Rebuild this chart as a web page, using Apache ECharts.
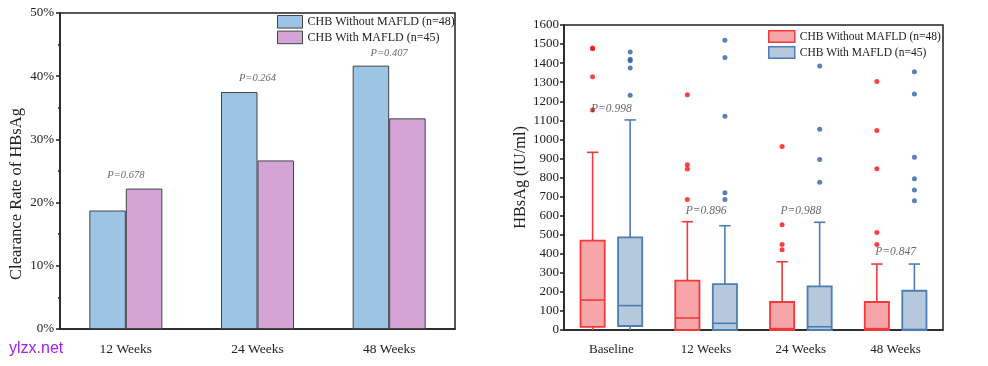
<!DOCTYPE html>
<html>
<head>
<meta charset="utf-8">
<script src="https://cdn.jsdelivr.net/npm/echarts@6/dist/echarts.min.js"></script>
<style>html,body{margin:0;padding:0;background:#fff}#c{width:988px;height:366px}</style>
</head>
<body>
<div id="c"></div>
<script>
// ---------- Left chart data ----------
const rateCategories = ['12 Weeks', '24 Weeks', '48 Weeks'];
const rateWithout = [0.1875, 0.375, 0.4167];
const rateWith = [0.2222, 0.2667, 0.3333];
const rateP = ['P=0.678', 'P=0.264', 'P=0.407'];
const rateYTicks = [0, 0.1, 0.2, 0.3, 0.4, 0.5];
const ratePLabelY = [0.243, 0.396, 0.437];

// ---------- Right chart data ----------
const boxCategories = ['Baseline', '12 Weeks', '24 Weeks', '48 Weeks'];
// [min, Q1, median, Q3, max]
const boxWithout = [
  [0, 16, 157, 469, 932],
  [0, 0, 63, 259, 568],
  [0, 0, 7, 147, 358],
  [0, 0, 7, 147, 346]
];
const boxWith = [
  [0, 21, 128, 486, 1102],
  [0, 0, 35, 241, 547],
  [0, 0, 17, 229, 565],
  [0, 0, 3, 206, 346]
];
const outWithout = [
  [1480, 1476, 1329, 1154],
  [1234, 867, 845, 684],
  [963, 552, 449, 421],
  [1304, 1047, 846, 512, 448]
];
const outWith = [
  [1458, 1420, 1413, 1374, 1231],
  [1520, 1430, 1121, 720, 684],
  [1385, 1053, 895, 775],
  [1355, 1238, 906, 794, 734, 678]
];
const boxP = ['P=0.998', 'P=0.896', 'P=0.988', 'P=0.847'];
const boxPLabelY = [1159, 626, 626, 410];
const seriesNames = ['CHB Without MAFLD (n=48)', 'CHB With MAFLD (n=45)'];

const FONT = '"Liberation Serif", "Times New Roman", serif';
const chart = echarts.init(document.getElementById('c'));

function boxRender(offFrac, fill, stroke) {
  return function (params, api) {
    const i = api.value(0);
    const band = api.size([1, 0])[0];
    const off = band * offFrac;
    const bw = band * 0.255, cw = band * 0.12;
    const pMin = api.coord([i, api.value(1)]);
    const pQ1 = api.coord([i, api.value(2)]);
    const pMed = api.coord([i, api.value(3)]);
    const pQ3 = api.coord([i, api.value(4)]);
    const pMax = api.coord([i, api.value(5)]);
    const cx = pMin[0] + off;
    const ls = { stroke: stroke, lineWidth: 1.6, fill: null };
    const ch = [
      { type: 'line', shape: { x1: cx, y1: pQ3[1], x2: cx, y2: pMax[1] }, style: ls },
      { type: 'line', shape: { x1: cx - cw / 2, y1: pMax[1], x2: cx + cw / 2, y2: pMax[1] }, style: ls },
      { type: 'line', shape: { x1: cx, y1: pQ1[1], x2: cx, y2: pMin[1] }, style: ls },
      { type: 'rect', shape: { x: cx - bw / 2, y: pQ3[1], width: bw, height: pQ1[1] - pQ3[1] },
        style: { fill: fill, stroke: stroke, lineWidth: 1.8 } },
      { type: 'line', shape: { x1: cx - bw / 2, y1: pMed[1], x2: cx + bw / 2, y2: pMed[1] }, style: ls }
    ];
    return { type: 'group', children: ch };
  };
}

function boxData(arr) { return arr.map((d, i) => [i].concat(d)); }
function outData(arr) {
  const r = [];
  arr.forEach((vals, i) => vals.forEach(v => r.push([i, v])));
  return r;
}

const legendText = { L0: seriesNames[0], L1: seriesNames[1], R0: seriesNames[0], R1: seriesNames[1] };

const option = {
  animation: false,
  backgroundColor: '#fff',
  textStyle: { fontFamily: FONT },
  grid: [
    { left: 60, top: 13, width: 395, height: 316, show: true, borderColor: '#222', borderWidth: 1.5, backgroundColor: 'transparent' },
    { left: 564, top: 25, width: 379, height: 305, show: true, borderColor: '#222', borderWidth: 1.5, backgroundColor: 'transparent' }
  ],
  legend: [
    {
      left: 277, top: 15, padding: 0, orient: 'vertical', itemWidth: 25, itemHeight: 12.6, itemGap: 2,
      icon: 'rect', formatter: n => legendText[n],
      textStyle: { fontFamily: FONT, fontSize: 12, color: '#222', lineHeight: 13 },
      data: [
        { name: 'L0', itemStyle: { color: '#9DC3E5', borderColor: '#444', borderWidth: 1 } },
        { name: 'L1', itemStyle: { color: '#D3A5D7', borderColor: '#444', borderWidth: 1 } }
      ]
    },
    {
      left: 768, top: 30, padding: 0, orient: 'vertical', itemWidth: 26, itemHeight: 11.5, itemGap: 3,
      icon: 'rect', formatter: n => legendText[n],
      textStyle: { fontFamily: FONT, fontSize: 11.5, color: '#222', lineHeight: 11.5 },
      data: [
        { name: 'R0', itemStyle: { color: '#F6A5A8', borderColor: '#F23A3A', borderWidth: 1.5 } },
        { name: 'R1', itemStyle: { color: '#B5C8DC', borderColor: '#4D7DB3', borderWidth: 1.5 } }
      ]
    }
  ],
  xAxis: [
    {
      gridIndex: 0, type: 'category', data: rateCategories,
      axisLine: { lineStyle: { color: '#222', width: 1.5 } },
      axisTick: { alignWithLabel: true, length: 5, lineStyle: { color: '#222', width: 1.5 } },
      axisLabel: { fontFamily: FONT, fontSize: 13.5, color: '#222', margin: 13 }
    },
    {
      gridIndex: 1, type: 'category', data: boxCategories,
      axisLine: { lineStyle: { color: '#222', width: 1.5 } },
      axisTick: { alignWithLabel: true, length: 5, lineStyle: { color: '#222', width: 1.5 } },
      axisLabel: { fontFamily: FONT, fontSize: 13, color: '#222', margin: 13 }
    }
  ],
  yAxis: [
    {
      gridIndex: 0, type: 'value', min: rateYTicks[0], max: rateYTicks[rateYTicks.length - 1], interval: 0.1,
      name: 'Clearance Rate of HBsAg', nameLocation: 'middle', nameGap: 35,
      nameTextStyle: { fontFamily: FONT, fontSize: 16.5, color: '#222', padding: [0, 46, 0, 0] },
      axisLine: { show: true, lineStyle: { color: '#222', width: 1.5 } },
      axisTick: { show: true, length: 4, lineStyle: { color: '#222', width: 1.5 } },
      minorTick: { show: true, splitNumber: 2, length: 2, lineStyle: { color: '#222', width: 1.5 } },
      splitLine: { show: false },
      axisLabel: { fontFamily: FONT, fontSize: 13, color: '#222', margin: 6,
        formatter: v => Math.round(v * 100) + '%' }
    },
    {
      gridIndex: 1, type: 'value', min: 0, max: 1600, interval: 100,
      name: 'HBsAg (IU/ml)', nameLocation: 'middle', nameGap: 33,
      nameTextStyle: { fontFamily: FONT, fontSize: 16.3, color: '#222' },
      axisLine: { show: true, lineStyle: { color: '#222', width: 1.5 } },
      axisTick: { show: true, length: 4, lineStyle: { color: '#222', width: 1.5 } },
      splitLine: { show: false },
      axisLabel: { fontFamily: FONT, fontSize: 13, color: '#222', margin: 5, formatter: v => String(v) }
    }
  ],
  series: [
    {
      name: 'L0', type: 'bar', xAxisIndex: 0, yAxisIndex: 0, data: rateWithout,
      barWidth: 36.5, barGap: '0%',
      itemStyle: { color: '#9DC3E5', borderColor: '#444', borderWidth: 1 }
    },
    {
      name: 'L1', type: 'bar', xAxisIndex: 0, yAxisIndex: 0, data: rateWith,
      barWidth: 36.5, barGap: '0%',
      itemStyle: { color: '#D3A5D7', borderColor: '#444', borderWidth: 1 }
    },
    {
      type: 'scatter', xAxisIndex: 0, yAxisIndex: 0, symbolSize: 1, silent: true,
      itemStyle: { color: 'transparent' },
      data: ratePLabelY.map((v, i) => [i, v]),
      label: { show: true, position: 'inside', formatter: p => rateP[p.dataIndex],
        fontFamily: FONT, fontStyle: 'italic', fontSize: 10.5, color: '#444' }
    },
    {
      name: 'R0', type: 'custom', xAxisIndex: 1, yAxisIndex: 1,
      renderItem: boxRender(-0.198, '#F6A5A8', '#F23A3A'),
      encode: { x: 0, y: [1, 2, 3, 4, 5] },
      itemStyle: { color: '#F6A5A8', borderColor: '#F23A3A' },
      data: boxData(boxWithout)
    },
    {
      name: 'R1', type: 'custom', xAxisIndex: 1, yAxisIndex: 1,
      renderItem: boxRender(0.198, '#B5C8DC', '#4D7DB3'),
      encode: { x: 0, y: [1, 2, 3, 4, 5] },
      itemStyle: { color: '#B5C8DC', borderColor: '#4D7DB3' },
      data: boxData(boxWith)
    },
    {
      type: 'scatter', xAxisIndex: 1, yAxisIndex: 1, symbol: 'circle', symbolSize: 5,
      symbolOffset: [-18.8, 0], itemStyle: { color: '#FF1010' }, data: outData(outWithout)
    },
    {
      type: 'scatter', xAxisIndex: 1, yAxisIndex: 1, symbol: 'circle', symbolSize: 5,
      symbolOffset: [18.8, 0], itemStyle: { color: '#2E62A6' }, data: outData(outWith)
    },
    {
      type: 'scatter', xAxisIndex: 1, yAxisIndex: 1, symbolSize: 1, silent: true,
      itemStyle: { color: 'transparent' },
      data: boxPLabelY.map((v, i) => [i, v]),
      label: { show: true, position: 'inside', formatter: p => boxP[p.dataIndex],
        fontFamily: FONT, fontStyle: 'italic', fontSize: 11.5, color: '#444' }
    }
  ],
  graphic: [
    { type: 'text', left: 9, top: 341, silent: true,
      style: { text: 'ylzx.net', fontFamily: '"Liberation Sans", Arial, sans-serif', fontSize: 16, fill: '#A020E8' } }
  ]
};
chart.setOption(option);
</script>
</body>
</html>
